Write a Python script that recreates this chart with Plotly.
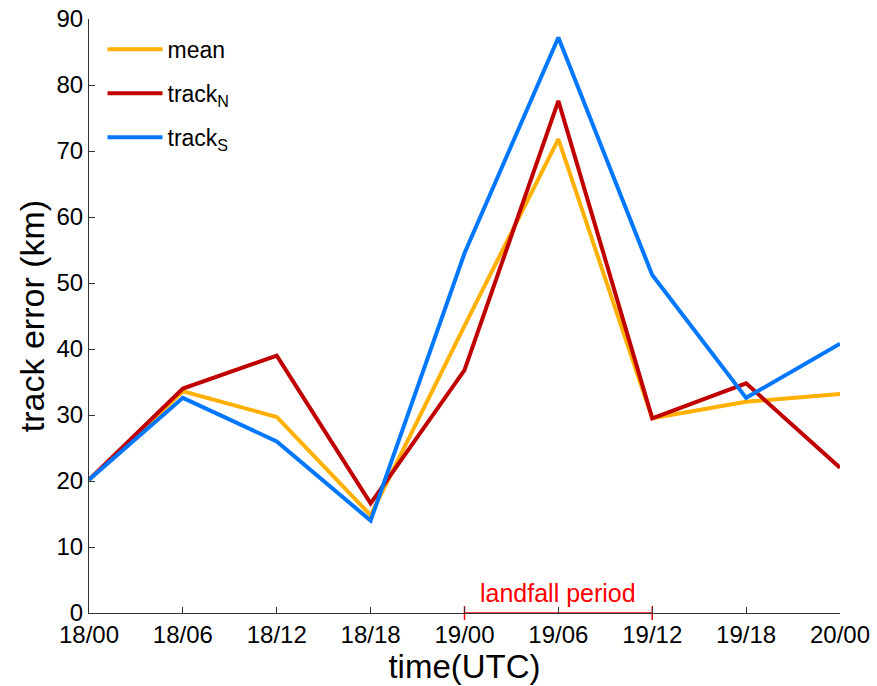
import plotly.graph_objects as go

# Forecast times (UTC) and track errors (km)
times = ["18/00", "18/06", "18/12", "18/18", "19/00", "19/06", "19/12", "19/18", "20/00"]
mean_err = [20.2, 33.6, 29.7, 14.8, 43.5, 71.8, 29.5, 32.0, 33.2]
track_n = [20.2, 34.0, 39.0, 16.6, 36.8, 77.6, 29.5, 34.8, 22.0]
track_s = [20.2, 32.6, 26.0, 14.0, 54.5, 87.2, 51.2, 32.6, 40.8]

# Landfall period bounds
landfall_start = "19/00"
landfall_end = "19/12"

x = list(range(len(times)))
font_family = "Arial, Liberation Sans, sans-serif"

fig = go.Figure()

series = [
    ("mean", mean_err, "#FFB000"),
    ("track<sub>N</sub>", track_n, "#C00000"),
    ("track<sub>S</sub>", track_s, "#0077FF"),
]
for k, (name, vals, color) in enumerate(series):
    fig.add_trace(go.Scatter(
        x=x, y=vals, mode="lines", name=name, legendgroup=f"g{k}",
        line=dict(color=color, width=4),
        cliponaxis=False,
    ))

# Landfall period bar along the time axis
i0, i1 = times.index(landfall_start), times.index(landfall_end)
fig.add_trace(go.Scatter(
    x=[i0, i1], y=[0, 0], mode="lines+markers",
    line=dict(color="#FF0000", width=1.5),
    marker=dict(symbol="line-ns", size=10, line=dict(color="#FF0000", width=1.5)),
    showlegend=False, cliponaxis=False, hoverinfo="skip",
))
fig.add_annotation(
    x=(i0 + i1) / 2, y=0, xref="x", yref="y", yshift=20,
    text="landfall period", showarrow=False,
    font=dict(family=font_family, size=25, color="#FF0000"),
)

fig.update_layout(
    width=877, height=686,
    margin=dict(l=89, r=37, t=19, b=73),
    paper_bgcolor="white", plot_bgcolor="white",
    font=dict(family=font_family, color="black"),
    legend=dict(
        x=0.018, y=0.985, xanchor="left", yanchor="top",
        font=dict(family=font_family, size=23, color="black"),
        bgcolor="rgba(0,0,0,0)", itemwidth=55, tracegroupgap=11,
    ),
)
fig.update_xaxes(
    range=[0, len(times) - 1], tickmode="array", tickvals=x, ticktext=times,
    showgrid=False, zeroline=False, showline=True, linecolor="#333333", linewidth=1,
    ticks="inside", ticklen=6, tickcolor="#333333", automargin=False,
    tickfont=dict(size=24, family=font_family, color="black"),
    title=dict(text="time(UTC)", font=dict(size=33, family=font_family, color="black"), standoff=0),
)
fig.update_yaxes(
    range=[0, 90], tickmode="array", tickvals=list(range(0, 91, 10)),
    showgrid=False, zeroline=False, showline=True, linecolor="#333333", linewidth=1,
    ticks="inside", ticklen=6, tickcolor="#333333", automargin=False,
    tickfont=dict(size=24, family=font_family, color="black"),
    title=dict(text="track error (km)", font=dict(size=34, family=font_family, color="black"), standoff=1),
)

fig.write_html("out.html")
